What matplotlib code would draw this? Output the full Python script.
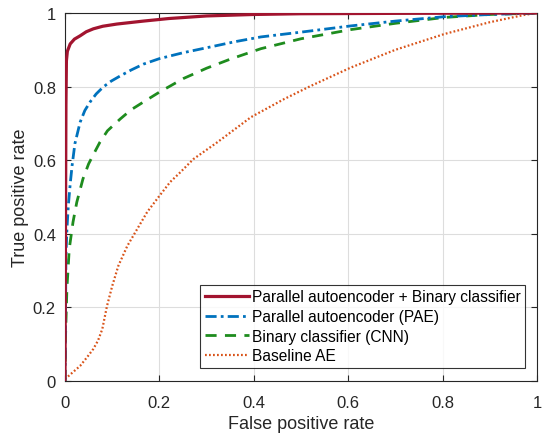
import matplotlib
matplotlib.use("Agg")
import matplotlib.pyplot as plt

plt.rcParams['font.family'] = ['Liberation Sans', 'DejaVu Sans']

# Parallel autoencoder + Binary classifier
pab_fpr = [0.0, 0.001, 0.002, 0.003, 0.005, 0.011, 0.02, 0.032, 0.045, 0.06, 0.08, 0.11, 0.166, 0.22, 0.3, 0.4, 0.5, 0.7, 1.0]
pab_tpr = [0.0, 0.4, 0.75, 0.87, 0.896, 0.916, 0.929, 0.938, 0.949, 0.957, 0.964, 0.970, 0.978, 0.985, 0.992, 0.996, 0.998, 0.999, 1.0]

# Parallel autoencoder (PAE)
pae_fpr = [0.0, 0.001, 0.002, 0.004, 0.007, 0.011, 0.015, 0.021, 0.032, 0.042, 0.053, 0.066, 0.081, 0.098, 0.117, 0.14, 0.166, 0.2, 0.25, 0.309, 0.36, 0.415, 0.5, 0.606, 0.7, 0.804, 0.9, 1.0]
pae_tpr = [0.0, 0.15, 0.34, 0.41, 0.476, 0.535, 0.585, 0.645, 0.703, 0.735, 0.758, 0.78, 0.799, 0.815, 0.829, 0.845, 0.861, 0.876, 0.892, 0.908, 0.922, 0.935, 0.948, 0.965, 0.978, 0.99, 0.996, 1.0]

# Binary classifier (CNN)
cnn_fpr = [0.0, 0.001, 0.004, 0.009, 0.017, 0.025, 0.038, 0.05, 0.06, 0.074, 0.09, 0.117, 0.14, 0.166, 0.2, 0.251, 0.3, 0.351, 0.415, 0.5, 0.606, 0.7, 0.804, 0.9, 1.0]
cnn_tpr = [0.0, 0.114, 0.25, 0.359, 0.432, 0.486, 0.549, 0.59, 0.615, 0.649, 0.68, 0.712, 0.737, 0.758, 0.785, 0.822, 0.85, 0.875, 0.903, 0.93, 0.955, 0.972, 0.988, 0.996, 1.0]

# Baseline AE
ae_fpr = [0.0, 0.015, 0.032, 0.047, 0.06, 0.07, 0.079, 0.089, 0.1, 0.113, 0.132, 0.153, 0.174, 0.2, 0.223, 0.245, 0.272, 0.323, 0.394, 0.464, 0.521, 0.606, 0.7, 0.804, 0.9, 0.974, 1.0]
ae_tpr = [0.005, 0.022, 0.041, 0.065, 0.087, 0.11, 0.141, 0.204, 0.258, 0.313, 0.367, 0.413, 0.459, 0.503, 0.541, 0.568, 0.603, 0.649, 0.717, 0.766, 0.802, 0.852, 0.9, 0.943, 0.975, 0.995, 1.0]

labels = ["Parallel autoencoder + Binary classifier", "Parallel autoencoder (PAE)",
          "Binary classifier (CNN)", "Baseline AE"]
x_ticks = [0, 0.2, 0.4, 0.6, 0.8, 1]
y_ticks = [0, 0.2, 0.4, 0.6, 0.8, 1]
tick_labels = ["0", "0.2", "0.4", "0.6", "0.8", "1"]

fig = plt.figure(figsize=(5.43, 4.39), dpi=100)
ax = fig.add_axes([65/543, 1 - 382/439, 472/543, 368/439])

ax.plot(pab_fpr, pab_tpr, color='#A2142F', lw=2.3, ls='-', label=labels[0], zorder=5)
ax.plot(pae_fpr, pae_tpr, color='#0072BD', lw=2.0, ls=(0, (4, 1.5, 1, 1.5)), label=labels[1], zorder=4)
ax.plot(cnn_fpr, cnn_tpr, color='#1E8C1E', lw=2.0, ls=(0, (4, 3)), label=labels[2], zorder=3)
ax.plot(ae_fpr, ae_tpr, color='#D95319', lw=1.6, ls=(0, (0.8, 1.0)), label=labels[3], zorder=2)

ax.set_xlim(0, 1)
ax.set_ylim(0, 1)
ax.set_xticks(x_ticks)
ax.set_xticklabels(tick_labels)
ax.set_yticks(y_ticks)
ax.set_yticklabels(tick_labels)
ax.tick_params(direction='in', top=True, right=True, labelsize=12, colors='#262626', length=4, width=0.8)
ax.tick_params(axis='x', pad=10)
ax.tick_params(axis='y', pad=6.5)
ax.grid(True, color='#DDDDDD', lw=0.8)
ax.set_axisbelow(True)
for s in ax.spines.values():
    s.set_color('#262626')
    s.set_linewidth(0.8)

ax.set_xlabel("False positive rate", fontsize=13, color='#262626', labelpad=3.5)
ax.set_ylabel("True positive rate", fontsize=13, color='#262626', labelpad=3)

leg = ax.legend(loc='lower right', bbox_to_anchor=(0.975, 0.035), fontsize=11.2, frameon=True, fancybox=False,
                edgecolor='black', handlelength=2.8, handletextpad=0.2, borderpad=0.3,
                labelspacing=0.3, borderaxespad=0)
leg.get_frame().set_linewidth(0.8)

fig.savefig("out.png", dpi=100)
